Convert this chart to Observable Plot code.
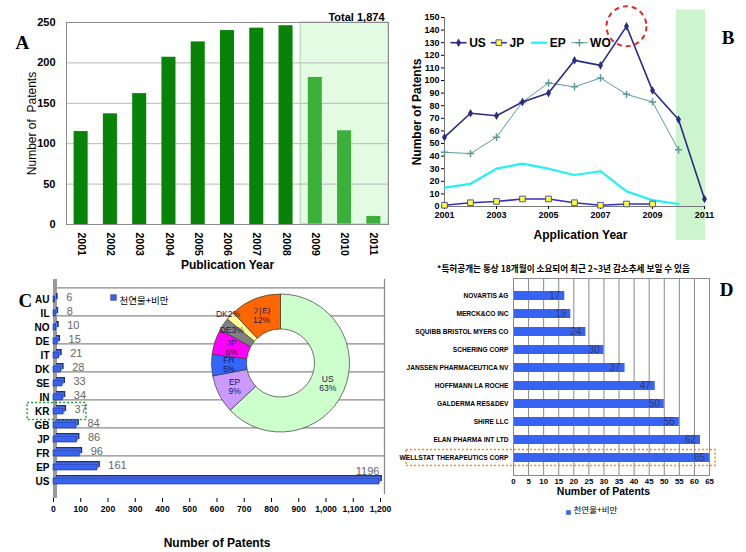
<!DOCTYPE html>
<html><head><meta charset="utf-8">
<script src="https://cdn.jsdelivr.net/npm/d3@7"></script>
<script src="https://cdn.jsdelivr.net/npm/@observablehq/plot@0.6"></script>
<style>
body{margin:0;background:#fff}
#wrap{position:relative;width:746px;height:552px;overflow:hidden;background:#fff}
.panel{position:absolute}
</style></head><body><div id="wrap"></div>
<script>
// ---------- data ----------
const yearsA = [2001,2002,2003,2004,2005,2006,2007,2008,2009,2010,2011];
const countsA = [115,137,162,207,226,240,243,246,182,116,10];
const totalA = "Total 1,874";

const yearsB = [2001,2002,2003,2004,2005,2006,2007,2008,2009,2010,2011];
const usB = [55,74,72,83,90,116,112,143,92,69,6];
const jpB = [1,3,4,6,6,3,1,2,2];
const epB = [15,18,30,34,30,25,28,12,5,2];
const woB = [43,42,55,83,98,95,102,89,83,45];
const seriesNamesB = ["US","JP","EP","WO"];
const xTicksB = [2001,2003,2005,2007,2009,2011];

const countriesC = ["AU","IL","NO","DE","IT","DK","SE","IN","KR","GB","JP","FR","EP","US"];
const countsC = [6,8,10,15,21,28,33,34,37,84,86,96,161,1196];
const sliceNamesC = ["US","EP","FR","JP","DE","DK","기타"];
const slicePctC = [63,9,5,6,3,2,12];
const legendC = "천연물+비만";

const companiesD = ["NOVARTIS AG","MERCK&CO INC","SQUIBB BRISTOL MYERS CO","SCHERING CORP","JANSSEN PHARMACEUTICA NV","HOFFMANN LA ROCHE","GALDERMA RES&DEV","SHIRE LLC","ELAN PHARMA INT LTD","WELLSTAT THERAPEUTICS CORP"];
const countsD = [17,19,24,30,37,47,50,55,62,65];
const titleD = "*특허공개는 통상 18개월이 소요되어 최근 2~3년 감소추세 보일 수 있음";
const legendD = "천연물+비만";

// ---------- styles ----------
const F = "'Liberation Sans', Arial, sans-serif";
const KF = "'Noto Sans CJK KR', 'Liberation Sans', sans-serif";
const SERIF = "'Liberation Serif', 'Times New Roman', serif";
const sliceColorsC = ["#ccffcc","#cc99ff","#3366ff","#ff00ff","#808080","#ffff99","#ff6600"];
const wrap = document.getElementById("wrap");
function place(node, left, top) {
  const d = document.createElement("div");
  d.className = "panel"; d.style.left = left + "px"; d.style.top = top + "px";
  d.appendChild(node); wrap.appendChild(d);
}
const baseStyle = {fontFamily: F, background: "transparent", overflow: "visible"};

// ---------- Panel A ----------
const dataA = yearsA.map((y, i) => ({year: y, n: countsA[i]}));
const shadeA = [{x1: 2008.5, x2: 2011.5}];
const plotA = Plot.plot({
  width: 400, height: 280, marginLeft: 66, marginRight: 12, marginTop: 22, marginBottom: 56,
  style: baseStyle,
  x: {domain: [2000.5, 2011.5]},
  y: {domain: [0, 250]},
  marks: [
    Plot.rect(shadeA, {x1: "x1", x2: "x2", y1: 0, y2: 250, fill: "#e3fbe3"}),
    Plot.ruleY([50, 100, 150, 200], {stroke: "#b8b8b8"}),
    Plot.rectY(dataA.filter(d => d.year <= 2008), {x1: d => d.year - 0.24, x2: d => d.year + 0.24, y: "n", fill: "#078407"}),
    Plot.rectY(dataA.filter(d => d.year > 2008), {x1: d => d.year - 0.24, x2: d => d.year + 0.24, y: "n", fill: "#3bb03b"}),
    Plot.rect(shadeA, {x1: "x1", x2: "x2", y1: 0, y2: 250, fill: "none", stroke: "#a3d3a3"}),
    Plot.frame({stroke: "#8c8c8c"}),
    Plot.axisX(yearsA, {tickRotate: 90, tickSize: 0, tickPadding: 8, tickFormat: d => String(d), fontSize: 10.5, fontWeight: "bold", label: null}),
    Plot.axisY([0, 50, 100, 150, 200, 250], {tickSize: 0, tickPadding: 11, fontSize: 11, fontWeight: "bold", label: null}),
    Plot.axisY([], {label: "Number of  Patents", labelAnchor: "center", labelArrow: "none", labelOffset: 39, fontSize: 12, tickSize: 0}),
    Plot.text(["Publication Year"], {frameAnchor: "bottom", dy: 44, fontSize: 12, fontWeight: "bold"}),
    Plot.text([totalA], {frameAnchor: "top-right", dx: -4, dy: -9, textAnchor: "end", fontSize: 11, fontWeight: "bold"}),
    Plot.text(["A"], {frameAnchor: "top-left", dx: -51, dy: 13, fontSize: 19, fontWeight: "bold", fontFamily: SERIF})
  ]
});
place(plotA, 0, 0);

// ---------- Panel B ----------
const toPts = (arr) => arr.map((v, i) => ({year: yearsB[i], n: v}));
const usPts = toPts(usB), jpPts = toPts(jpB), epPts = toPts(epB), woPts = toPts(woB);
const colB = {US: "#2b2b85", JP: "#3030c8", EP: "#22f2f2", WO: "#5f9a9a"};
const legY = 130;
const legItems = seriesNamesB.map((s, i) => ({s, x: 2001.23 + i * 1.55}));
const plotB = Plot.plot({
  width: 376, height: 250, marginLeft: 74, marginRight: 42, marginTop: 17, marginBottom: 44,
  style: baseStyle,
  x: {domain: [2001, 2011]},
  y: {domain: [0, 150]},
  marks: [
    Plot.rect([0], {x1: 2010, x2: 2011, y1: -27, y2: 156, insetLeft: -2, insetRight: -1, fill: "#cdf5cd"}),
    Plot.ruleX([2001], {stroke: "#777"}),
    Plot.ruleY([0], {stroke: "#777"}),
    Plot.axisY(d3.range(0, 151, 10), {tickSize: 3, tickPadding: 2, fontSize: 9, fontWeight: "bold", label: null}),
    Plot.axisY([], {label: "Number of Patents", labelAnchor: "center", labelArrow: "none", labelOffset: 32, fontSize: 12, fontWeight: "bold", tickSize: 0}),
    Plot.axisX(xTicksB, {tickSize: 3, tickPadding: 2, fontSize: 9, fontWeight: "bold", tickFormat: d => String(d), label: null}),
    Plot.line(epPts, {x: "year", y: "n", stroke: colB.EP, strokeWidth: 2.2}),
    Plot.line(woPts, {x: "year", y: "n", stroke: colB.WO, strokeWidth: 1}),
    Plot.dot(woPts, {x: "year", y: "n", symbol: "plus", r: 2.5, stroke: colB.WO}),
    Plot.line(jpPts, {x: "year", y: "n", stroke: colB.JP, strokeWidth: 1.6}),
    Plot.dot(jpPts, {x: "year", y: "n", symbol: "square", r: 3.2, fill: "#ffff33", stroke: "#3030a0", strokeWidth: 0.8}),
    Plot.line(usPts, {x: "year", y: "n", stroke: colB.US, strokeWidth: 1.6}),
    Plot.dot(usPts, {x: "year", y: "n", symbol: "diamond", r: 2.6, fill: colB.US}),
    Plot.dot([{year: 2008, n: 143}], {x: "year", y: "n", r: 20, fill: "none", stroke: "#e02828", strokeWidth: 2, strokeDasharray: "5,4"}),
    // legend
    Plot.link(legItems, {x1: "x", x2: d => d.x + 0.62, y1: legY, y2: legY, stroke: d => colB[d.s], strokeWidth: d => d.s === "EP" ? 2.2 : d.s === "WO" ? 1 : 1.6}),
    Plot.dot(legItems.filter(d => d.s === "US"), {x: d => d.x + 0.31, y: legY, symbol: "diamond", r: 2.6, fill: colB.US}),
    Plot.dot(legItems.filter(d => d.s === "JP"), {x: d => d.x + 0.31, y: legY, symbol: "square", r: 3.2, fill: "#ffff33", stroke: "#3030a0", strokeWidth: 0.8}),
    Plot.dot(legItems.filter(d => d.s === "WO"), {x: d => d.x + 0.31, y: legY, symbol: "plus", r: 2.5, stroke: colB.WO}),
    Plot.text(legItems, {x: d => d.x + 0.72, y: legY, text: "s", textAnchor: "start", fontSize: 12, fontWeight: "bold"}),
    Plot.text(["Application Year"], {frameAnchor: "bottom", dx: 6, dy: 32, fontSize: 12, fontWeight: "bold"}),
    Plot.text(["B"], {frameAnchor: "top-right", dx: 30, dy: 13, fontSize: 19, fontWeight: "bold", fontFamily: SERIF})
  ]
});
place(plotB, 370, 0);

// ---------- Panel C ----------
const dataC = countriesC.map((c, i) => ({c, n: countsC[i]}));
const slicesC = sliceNamesC.map((name, i) => ({name, pct: slicePctC[i], color: sliceColorsC[i]}));
function donutMark() {
  const cx = 280.5, cy = 93, r0 = 34, r1 = 69;
  const g = d3.create("svg:g").attr("transform", `translate(${cx},${cy})`);
  const arcs = d3.pie().sort(null).value(d => d.pct)(slicesC);
  const arc = d3.arc().innerRadius(r0).outerRadius(r1);
  g.selectAll("path").data(arcs).join("path")
    .attr("d", arc).attr("fill", d => d.data.color).attr("stroke", "#3a3a3a").attr("stroke-width", 0.7);
  const labelRadius = {DK: 72, DE: 59};
  const addText = (x, y, s) => g.append("text").attr("text-anchor", "middle").attr("font-size", 8.5)
      .attr("font-family", F).attr("fill", "#1a1a4a").attr("x", x).attr("y", y).text(s);
  arcs.forEach(a => {
    const small = a.data.pct <= 3;
    const lr = labelRadius[a.data.name];
    const [x, y] = lr ? d3.arc().innerRadius(lr).outerRadius(lr).centroid(a) : arc.centroid(a);
    if (small) {
      addText(x, y + 3, a.data.name + a.data.pct + "%");
    } else {
      addText(x, y - 1.5, a.data.name);
      addText(x, y + 7.5, a.data.pct + "%");
    }
  });
  return g.node();
}
const plotC = Plot.plot({
  width: 400, height: 282, marginLeft: 53, marginRight: 20, marginTop: 13, marginBottom: 54,
  style: baseStyle,
  x: {domain: [0, 1200]},
  y: {domain: countriesC, padding: 0.55},
  marks: [
    Plot.ruleY(["AU", "NO", "IT", "SE", "KR", "JP", "EP"], {x1: 0, x2: 1200, dx: 4, dy: -11.7, stroke: "#8a8a8a", strokeWidth: 1.3}),
    Plot.ruleX([1200], {dx: 4, insetTop: -4, insetBottom: 4, stroke: "#8a8a8a", strokeWidth: 1.3}),
    Plot.ruleX([0], {dx: 1.5, insetTop: -4, stroke: "#9a9a9a", strokeWidth: 4}),
    Plot.barX(dataC, {x: "n", y: "c", dx: 3, dy: -3, fill: "#1c2f8f"}),
    Plot.barX(dataC, {x: "n", y: "c", dx: 1.5, dy: -1.5, fill: "#5b83ff"}),
    Plot.barX(dataC, {x: "n", y: "c", fill: "#3a64f0", stroke: "#1a2a80", strokeWidth: 0.6}),
    Plot.text(dataC.filter(d => d.c !== "US"), {x: "n", y: "c", text: d => String(d.n), dx: 11, dy: -2, textAnchor: "start", fill: "#666", fontSize: 11}),
    Plot.text(dataC.filter(d => d.c === "US"), {x: "n", y: "c", text: d => String(d.n), dy: -10, textAnchor: "end", fill: "#666", fontSize: 11}),
    Plot.barX([{c: "KR"}], {x1: -95, x2: 121, y: "c", insetTop: -5.5, insetBottom: -5.5, fill: "none", stroke: "#2a9a3a", strokeWidth: 1.5, strokeDasharray: "2,2"}),
    Plot.axisY(countriesC, {tickSize: 0, tickPadding: 4, fontSize: 10, fontWeight: "bold", label: null}),
    Plot.axisX(d3.range(0, 1201, 100), {tickSize: 4, tickPadding: 3, fontSize: 8.6, fontWeight: "bold", tickFormat: d3.format(","), label: null}),
    donutMark,
    Plot.dot([0], {frameAnchor: "top-left", dx: 60, dy: 14, symbol: "square", r: 3.2, fill: "#3a64f0", stroke: "#1a2a80", strokeWidth: 0.5}),
    Plot.text([legendC], {frameAnchor: "top-left", dx: 66, dy: 14, textAnchor: "start", fontSize: 9.5, fontFamily: KF}),
    Plot.text(["Number of Patents"], {frameAnchor: "bottom", dy: 48, fontSize: 12, fontWeight: "bold"}),
    Plot.text(["C"], {frameAnchor: "top-left", dx: -35, dy: 10, fontSize: 19, fontWeight: "bold", fontFamily: SERIF})
  ]
});
place(plotC, 0, 270);

// ---------- Panel D ----------
const dataD = companiesD.map((c, i) => ({c, n: countsD[i]}));
const plotD = Plot.plot({
  width: 346, height: 297, marginLeft: 113, marginRight: 37, marginTop: 23, marginBottom: 77,
  style: baseStyle,
  x: {domain: [0, 65]},
  y: {domain: companiesD, padding: 0.52},
  marks: [
    Plot.gridX(d3.range(5, 65, 5), {stroke: "#8a8a8a", strokeOpacity: 1}),
    Plot.barX(dataD, {x: "n", y: "c", fill: "#3763f2"}),
    Plot.text(dataD, {x: "n", y: "c", text: d => String(d.n), dx: -10, fill: "#2e3a6e", fontSize: 10}),
    Plot.frame({stroke: "#8a8a8a"}),
    Plot.barX([{c: "WELLSTAT THERAPEUTICS CORP"}], {x1: -35.5, x2: 67, y: "c", insetTop: -3.5, insetBottom: -3.5, fill: "none", stroke: "#f08a28", strokeWidth: 1.5, strokeDasharray: "2,2"}),
    Plot.axisY(companiesD, {tickSize: 0, tickPadding: 5, fontSize: 6.6, fontWeight: "bold", label: null}),
    Plot.axisX(d3.range(0, 66, 5), {tickSize: 0, tickPadding: 3, fontSize: 7.8, fontWeight: "bold", label: null}),
    Plot.text(["Number of Patents"], {frameAnchor: "bottom", dx: -8, dy: 19, fontSize: 10.5, fontWeight: "bold"}),
    Plot.dot([0], {frameAnchor: "bottom", dx: -43, dy: 37, symbol: "square", r: 2.6, fill: "#3763f2"}),
    Plot.text([legendD], {frameAnchor: "bottom", dx: -38, dy: 37, textAnchor: "start", fontSize: 8.5, fontFamily: KF}),
    Plot.text([titleD], {frameAnchor: "top", dx: -48, dy: -13, fontSize: 8.6, fontWeight: "bold", fontFamily: KF}),
    Plot.text(["D"], {frameAnchor: "top-right", dx: 24, dy: 4, fontSize: 19, fontWeight: "bold", fontFamily: SERIF})
  ]
});
place(plotD, 400, 255);
</script>
</body></html>
